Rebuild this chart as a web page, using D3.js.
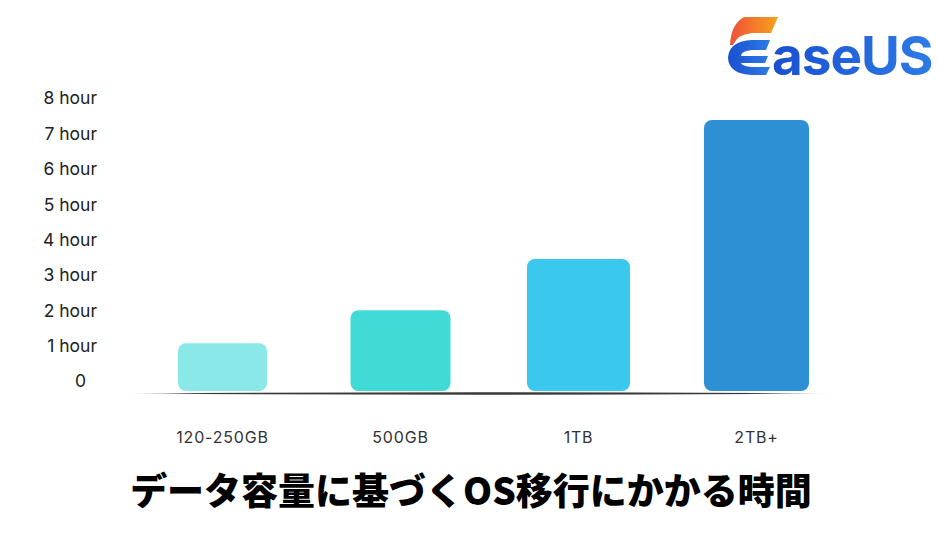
<!DOCTYPE html>
<html>
<head>
<meta charset="utf-8">
<script src="https://cdn.jsdelivr.net/npm/d3@7"></script>
<style>
  body { margin: 0; background: #fff; }
  svg { display: block; }
</style>
</head>
<body>
<svg id="chart"></svg>
<script>
// data
var categories = ["120-250GB", "500GB", "1TB", "2TB+"];
var hours = [1.07, 2.0, 3.45, 7.38];
var tickValues = [0, 1, 2, 3, 4, 5, 6, 7, 8];
var tickLabels = ["0", "1 hour", "2 hour", "3 hour", "4 hour", "5 hour", "6 hour", "7 hour", "8 hour"];
var title = "データ容量に基づくOS移行にかかる時間";

// presentation
var barColors = ["#8AE9E8", "#40DBD7", "#3AC8EE", "#2E90D4"];
var barWidths = [89, 100, 103, 105];

var svgWidth = 937, svgHeight = 548;
var svg = d3.select("#chart")
  .attr("width", svgWidth)
  .attr("height", svgHeight);

// x positions of the bars
var x = d3.scaleBand()
  .domain(categories)
  .range([133.5, 845.5])
  .paddingInner(0.44)
  .paddingOuter(0.22);

// y scale follows the tick labels
var y = d3.scaleLinear().domain([0, 8]).range([381, 98]);
var barFloor = y(0) + 10;

// baseline, faded at both ends
var defs = svg.append("defs");
var grad = defs.append("linearGradient").attr("id", "baseGrad");
grad.append("stop").attr("offset", "0%").attr("stop-color", "#222").attr("stop-opacity", 0);
grad.append("stop").attr("offset", "12%").attr("stop-color", "#222").attr("stop-opacity", 0.9);
grad.append("stop").attr("offset", "87%").attr("stop-color", "#222").attr("stop-opacity", 0.9);
grad.append("stop").attr("offset", "100%").attr("stop-color", "#222").attr("stop-opacity", 0);

svg.append("path")
  .attr("d", "M122,393.5 Q480,391.2 838,393.5 Q480,395.9 122,393.5 Z")
  .attr("fill", "url(#baseGrad)");

// bars
svg.append("g")
  .selectAll("path")
  .data(categories)
  .join("path")
  .attr("fill", (d, i) => barColors[i])
  .attr("d", function(d, i) {
    var cx = x(d) + x.bandwidth() / 2;
    var w = barWidths[i];
    var top = y(hours[i]);
    var r = 8;
    var p = d3.path();
    p.moveTo(cx - w / 2, top + r);
    p.arcTo(cx - w / 2, top, cx - w / 2 + r, top, r);
    p.lineTo(cx + w / 2 - r, top);
    p.arcTo(cx + w / 2, top, cx + w / 2, top + r, r);
    p.lineTo(cx + w / 2, barFloor - r);
    p.arcTo(cx + w / 2, barFloor, cx + w / 2 - r, barFloor, r);
    p.lineTo(cx - w / 2 + r, barFloor);
    p.arcTo(cx - w / 2, barFloor, cx - w / 2, barFloor - r, r);
    p.closePath();
    return p.toString();
  });

// y axis labels
var yAxis = svg.append("g")
  .attr("transform", "translate(97,0)")
  .call(d3.axisLeft(y)
    .tickValues(tickValues)
    .tickSize(0)
    .tickPadding(0)
    .tickFormat((d, i) => tickLabels[i]));
yAxis.select(".domain").remove();
yAxis.selectAll("text")
  .attr("font-family", "Inter, 'Noto Sans', sans-serif")
  .attr("font-size", "17.5px")
  .attr("fill", "#222")
  .attr("dy", "0.34em")
  .attr("dx", d => d === 0 ? -11 : 0);

// x axis labels
var xAxis = svg.append("g")
  .attr("transform", "translate(0,437)")
  .call(d3.axisBottom(x).tickSize(0).tickPadding(0));
xAxis.select(".domain").remove();
xAxis.selectAll("text")
  .attr("font-family", "Inter, 'Noto Sans', sans-serif")
  .attr("font-size", "16px")
  .attr("letter-spacing", "0.8px")
  .attr("fill", "#333")
  .attr("dy", "0.35em");

// title
svg.append("text")
  .attr("x", 471)
  .attr("y", 492)
  .attr("dy", "0.36em")
  .attr("text-anchor", "middle")
  .attr("font-family", "'Noto Sans CJK JP', sans-serif")
  .attr("font-weight", 900)
  .attr("font-size", "37px")
  .attr("fill", "#000")
  .text(title);

// EaseUS logo
var logoOrange = defs.append("linearGradient").attr("id", "logoOrange")
  .attr("x1", "0%").attr("x2", "100%");
logoOrange.append("stop").attr("offset", "0%").attr("stop-color", "#F0503A");
logoOrange.append("stop").attr("offset", "100%").attr("stop-color", "#F7A21B");
var logoBlue = defs.append("linearGradient").attr("id", "logoBlue")
  .attr("x1", "0%").attr("x2", "100%");
logoBlue.append("stop").attr("offset", "0%").attr("stop-color", "#1A4FD0");
logoBlue.append("stop").attr("offset", "100%").attr("stop-color", "#2D7BE6");

var logo = svg.append("g");
logo.append("path")
  .attr("d", "M744,17 L778,17 L771,33 L752,33 Q738,34 733,45 L730,45 Q731,24 744,17 Z")
  .attr("fill", "url(#logoOrange)");
logo.append("path")
  .attr("d", "M752,40 L770,40 L766,50 L752,50 Q741,51 741,56 L768,56 L765,63 L741,63 Q742,66 752,67 L770,67 L766,75 L752,75 Q729,74 728,58 Q729,41 752,40 Z")
  .attr("fill", "url(#logoBlue)");
logo.append("text")
  .attr("x", 772)
  .attr("y", 75)
  .attr("font-family", "Inter, 'Noto Sans', sans-serif")
  .attr("font-weight", 700)
  .attr("font-size", "53px")
  .attr("letter-spacing", "-1px")
  .attr("fill", "url(#logoBlue)")
  .text("aseUS");
</script>
</body>
</html>
